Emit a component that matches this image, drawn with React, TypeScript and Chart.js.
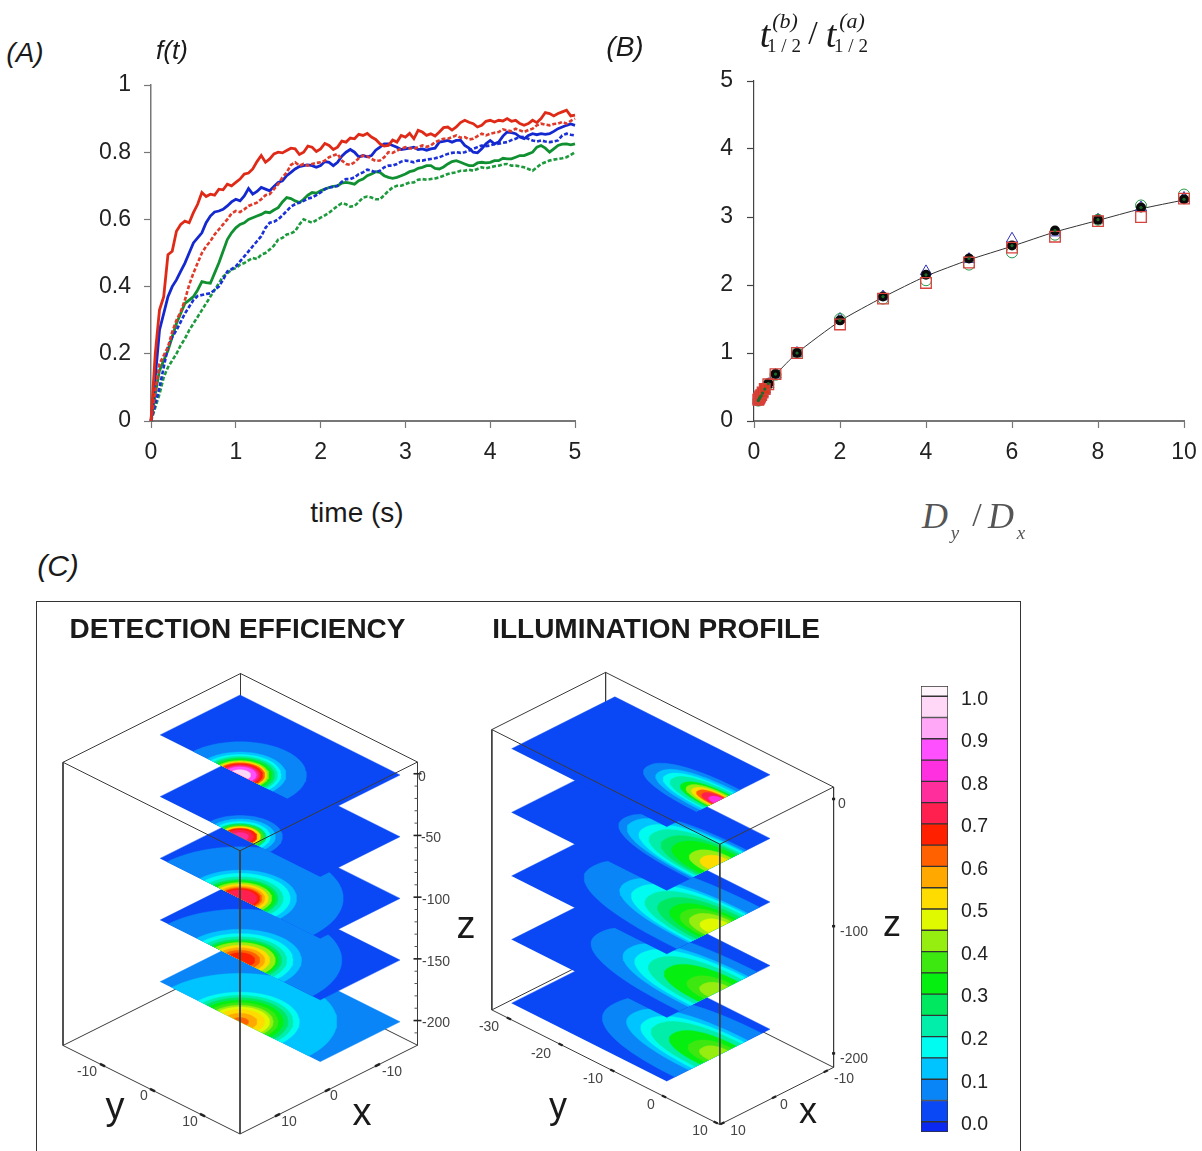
import React, { useEffect, useRef } from "react";
import { Chart, registerables } from "chart.js";

Chart.register(...registerables);

const SANS = "'Liberation Sans', Arial, sans-serif";
const SERIF = "'Liberation Serif', serif";

// ---------- Panel A ----------
const timeSeconds = [0, 0.05, 0.1, 0.15, 0.2, 0.25, 0.3, 0.35, 0.4, 0.45, 0.5, 0.55, 0.6, 0.65, 0.7, 0.75, 0.8, 0.85, 0.9, 0.95, 1, 1.05, 1.1, 1.15, 1.2, 1.25, 1.3, 1.35, 1.4, 1.45, 1.5, 1.55, 1.6, 1.65, 1.7, 1.75, 1.8, 1.85, 1.9, 1.95, 2, 2.05, 2.1, 2.15, 2.2, 2.25, 2.3, 2.35, 2.4, 2.45, 2.5, 2.55, 2.6, 2.65, 2.7, 2.75, 2.8, 2.85, 2.9, 2.95, 3, 3.05, 3.1, 3.15, 3.2, 3.25, 3.3, 3.35, 3.4, 3.45, 3.5, 3.55, 3.6, 3.65, 3.7, 3.75, 3.8, 3.85, 3.9, 3.95, 4, 4.05, 4.1, 4.15, 4.2, 4.25, 4.3, 4.35, 4.4, 4.45, 4.5, 4.55, 4.6, 4.65, 4.7, 4.75, 4.8, 4.85, 4.9, 4.95, 5];
const redSolid = [0, 0.2, 0.33, 0.37, 0.495, 0.505, 0.565, 0.585, 0.595, 0.59, 0.62, 0.645, 0.68, 0.668, 0.675, 0.672, 0.69, 0.688, 0.705, 0.7, 0.71, 0.72, 0.735, 0.738, 0.75, 0.772, 0.79, 0.77, 0.78, 0.795, 0.8, 0.798, 0.805, 0.812, 0.81, 0.793, 0.8, 0.818, 0.815, 0.802, 0.81, 0.826, 0.82, 0.808, 0.815, 0.833, 0.83, 0.842, 0.84, 0.853, 0.85, 0.856, 0.845, 0.838, 0.825, 0.818, 0.82, 0.836, 0.83, 0.85, 0.845, 0.856, 0.84, 0.865, 0.86, 0.85, 0.855, 0.848, 0.86, 0.873, 0.875, 0.866, 0.875, 0.888, 0.895, 0.889, 0.885, 0.875, 0.88, 0.892, 0.895, 0.89, 0.895, 0.893, 0.9, 0.892, 0.895, 0.885, 0.88, 0.885, 0.895, 0.888, 0.9, 0.918, 0.915, 0.908, 0.915, 0.92, 0.925, 0.908, 0.91];
const redDashed = [0, 0.09, 0.17, 0.195, 0.22, 0.265, 0.3, 0.325, 0.36, 0.405, 0.44, 0.47, 0.5, 0.52, 0.535, 0.555, 0.57, 0.585, 0.6, 0.618, 0.625, 0.622, 0.63, 0.64, 0.645, 0.65, 0.66, 0.672, 0.675, 0.69, 0.705, 0.725, 0.74, 0.762, 0.77, 0.76, 0.765, 0.76, 0.765, 0.768, 0.77, 0.775, 0.785, 0.79, 0.795, 0.775, 0.765, 0.762, 0.77, 0.782, 0.79, 0.788, 0.78, 0.774, 0.775, 0.785, 0.8, 0.798, 0.805, 0.81, 0.815, 0.812, 0.81, 0.815, 0.82, 0.816, 0.82, 0.83, 0.835, 0.84, 0.84, 0.845, 0.85, 0.843, 0.845, 0.838, 0.84, 0.848, 0.855, 0.85, 0.855, 0.858, 0.86, 0.868, 0.865, 0.862, 0.87, 0.865, 0.86, 0.866, 0.87, 0.88, 0.885, 0.882, 0.88, 0.884, 0.885, 0.89, 0.885, 0.893, 0.9];
const blueSolid = [0, 0.13, 0.27, 0.32, 0.37, 0.4, 0.42, 0.445, 0.47, 0.5, 0.53, 0.545, 0.56, 0.59, 0.61, 0.622, 0.625, 0.63, 0.64, 0.652, 0.66, 0.655, 0.67, 0.692, 0.675, 0.683, 0.695, 0.69, 0.685, 0.698, 0.71, 0.715, 0.73, 0.74, 0.75, 0.757, 0.76, 0.762, 0.76, 0.755, 0.76, 0.772, 0.77, 0.76, 0.77, 0.788, 0.8, 0.808, 0.8, 0.786, 0.79, 0.786, 0.79, 0.806, 0.815, 0.825, 0.825, 0.82, 0.815, 0.808, 0.81, 0.812, 0.815, 0.808, 0.81, 0.806, 0.81, 0.812, 0.83, 0.832, 0.835, 0.83, 0.835, 0.836, 0.82, 0.812, 0.8, 0.798, 0.81, 0.825, 0.835, 0.825, 0.83, 0.848, 0.86, 0.858, 0.855, 0.845, 0.84, 0.85, 0.855, 0.852, 0.855, 0.853, 0.855, 0.862, 0.87, 0.875, 0.88, 0.884, 0.88];
const blueDashed = [0, 0.05, 0.1, 0.16, 0.22, 0.25, 0.27, 0.295, 0.32, 0.34, 0.36, 0.372, 0.375, 0.378, 0.38, 0.39, 0.4, 0.42, 0.445, 0.452, 0.46, 0.475, 0.49, 0.505, 0.52, 0.535, 0.55, 0.575, 0.59, 0.593, 0.6, 0.612, 0.625, 0.638, 0.645, 0.65, 0.655, 0.662, 0.665, 0.672, 0.68, 0.69, 0.695, 0.697, 0.7, 0.712, 0.72, 0.72, 0.725, 0.735, 0.74, 0.748, 0.745, 0.74, 0.745, 0.755, 0.76, 0.76, 0.765, 0.772, 0.775, 0.773, 0.77, 0.775, 0.775, 0.778, 0.78, 0.782, 0.785, 0.79, 0.795, 0.798, 0.8, 0.798, 0.8, 0.805, 0.81, 0.815, 0.82, 0.818, 0.82, 0.824, 0.825, 0.828, 0.83, 0.836, 0.84, 0.846, 0.845, 0.84, 0.835, 0.832, 0.835, 0.832, 0.83, 0.832, 0.835, 0.85, 0.855, 0.852, 0.85];
const greenSolid = [0, 0.08, 0.15, 0.18, 0.21, 0.25, 0.29, 0.32, 0.35, 0.36, 0.37, 0.39, 0.415, 0.412, 0.41, 0.44, 0.47, 0.505, 0.54, 0.56, 0.575, 0.585, 0.59, 0.6, 0.605, 0.61, 0.615, 0.622, 0.62, 0.628, 0.635, 0.652, 0.665, 0.662, 0.655, 0.65, 0.66, 0.672, 0.68, 0.678, 0.685, 0.69, 0.695, 0.698, 0.7, 0.708, 0.71, 0.708, 0.705, 0.715, 0.72, 0.73, 0.735, 0.742, 0.74, 0.73, 0.725, 0.722, 0.725, 0.73, 0.735, 0.742, 0.745, 0.752, 0.755, 0.76, 0.76, 0.752, 0.75, 0.756, 0.765, 0.772, 0.775, 0.77, 0.765, 0.76, 0.76, 0.768, 0.77, 0.768, 0.77, 0.775, 0.775, 0.782, 0.78, 0.78, 0.785, 0.79, 0.79, 0.795, 0.8, 0.815, 0.82, 0.812, 0.8, 0.81, 0.82, 0.824, 0.825, 0.822, 0.825];
const greenDashed = [0, 0.04, 0.08, 0.13, 0.16, 0.18, 0.2, 0.225, 0.245, 0.27, 0.29, 0.31, 0.33, 0.35, 0.37, 0.39, 0.41, 0.43, 0.44, 0.45, 0.455, 0.465, 0.47, 0.478, 0.485, 0.482, 0.495, 0.5, 0.51, 0.522, 0.54, 0.545, 0.555, 0.558, 0.565, 0.585, 0.6, 0.595, 0.59, 0.598, 0.605, 0.612, 0.62, 0.63, 0.64, 0.648, 0.645, 0.638, 0.64, 0.652, 0.665, 0.668, 0.665, 0.66, 0.66, 0.672, 0.685, 0.695, 0.7, 0.7, 0.705, 0.71, 0.71, 0.718, 0.72, 0.718, 0.72, 0.722, 0.725, 0.73, 0.735, 0.738, 0.74, 0.745, 0.745, 0.748, 0.745, 0.75, 0.755, 0.752, 0.755, 0.758, 0.76, 0.764, 0.765, 0.76, 0.76, 0.758, 0.755, 0.75, 0.745, 0.755, 0.765, 0.77, 0.775, 0.778, 0.78, 0.782, 0.785, 0.792, 0.8];
const panelAXTicks = [0, 1, 2, 3, 4, 5];
const panelAYTicks = [0, 0.2, 0.4, 0.6, 0.8, 1];

// ---------- Panel B ----------
const diffusionRatio = [0.1, 0.111, 0.125, 0.143, 0.167, 0.2, 0.25, 0.333, 0.5, 1, 2, 3, 4, 5, 6, 7, 8, 9, 10];
const fitCurve = [0.3, 0.315, 0.33, 0.35, 0.37, 0.41, 0.46, 0.54, 0.68, 1, 1.47, 1.82, 2.13, 2.37, 2.57, 2.78, 2.95, 3.12, 3.25];
const blackDots = [0.3, 0.315, 0.33, 0.35, 0.37, 0.41, 0.47, 0.55, 0.69, 1, 1.48, 1.83, 2.15, 2.39, 2.58, 2.8, 2.96, 3.14, 3.26];
const redSquares = [0.31, 0.325, 0.34, 0.36, 0.38, 0.42, 0.47, 0.54, 0.69, 1, 1.42, 1.8, 2.03, 2.33, 2.55, 2.71, 2.94, 3, 3.27];
const greenCircles = [0.3, 0.315, 0.33, 0.35, 0.37, 0.41, 0.46, 0.54, 0.68, 1, 1.5, 1.8, 2.07, 2.3, 2.48, 2.74, 2.96, 3.17, 3.33];
const blueTriangles = [0.3, 0.315, 0.33, 0.35, 0.37, 0.41, 0.46, 0.54, 0.68, 1, 1.5, 1.83, 2.2, 2.38, 2.68, 2.77, 2.96, 3.14, 3.28];
const panelBXTicks = [0, 2, 4, 6, 8, 10];
const panelBYTicks = [0, 1, 2, 3, 4, 5];

// ---------- Colour scale ----------
const bandEdges = [-0.024, 0, 0.05, 0.1, 0.15, 0.2, 0.25, 0.3, 0.35, 0.4, 0.45, 0.5, 0.55, 0.6, 0.65, 0.7, 0.75, 0.8, 0.85, 0.9, 0.95, 1, 1.024];
const bandColors = ["#0a28f0", "#0a48f6", "#0a85f8", "#00c4ff", "#00fbf0", "#00eeaa", "#00e860", "#05f010", "#3ce810", "#96ee10", "#e0f800", "#ffdc00", "#ffa800", "#ff6000", "#ff2000", "#ff2050", "#ff2e9c", "#ff30e0", "#ff50ff", "#ffa8f8", "#ffd8f8", "#fff4fb"];
const scaleTicks = [0, 0.1, 0.2, 0.3, 0.4, 0.5, 0.6, 0.7, 0.8, 0.9, 1];

// ---------- Panel C, contour bands: [level, radius] ----------
const sliceDepths = [0, -50, -100, -150, -200];
const detectionBase = [0, 0, 0, 0, 0.05];
const detection0 = [[0.05, 9.4], [0.1, 6.5], [0.15, 5.8], [0.2, 5.3], [0.25, 4.9], [0.3, 4.5], [0.4, 4.1], [0.5, 3.8], [0.6, 3.5], [0.65, 3.2], [0.7, 2.9], [0.75, 2.6], [0.85, 2.3], [0.95, 1.5]];
const detection50 = [[0.05, 6], [0.1, 5], [0.15, 4.3], [0.25, 3.7], [0.35, 3.3], [0.5, 2.9], [0.65, 2.4], [0.7, 1.9], [0.75, 1.2]];
const detection100 = [[0.05, 14.6], [0.1, 8], [0.15, 7.1], [0.2, 6.1], [0.25, 5.4], [0.3, 5], [0.4, 4.5], [0.5, 4], [0.55, 3.5], [0.6, 3.1], [0.65, 2.8], [0.7, 2.4]];
const detection150 = [[0.05, 14.4], [0.1, 8.7], [0.15, 7.5], [0.2, 6.6], [0.25, 5.9], [0.3, 5.4], [0.4, 5], [0.5, 4.2], [0.55, 3.5], [0.6, 2.8], [0.65, 2.1]];
const detection200 = [[0.1, 13.7], [0.15, 8.4], [0.2, 7.5], [0.25, 6.8], [0.3, 6.1], [0.35, 5.4], [0.4, 4.7], [0.45, 4.2], [0.5, 3.5], [0.55, 2.4], [0.6, 1.2]];
const detectionSlices = [detection0, detection50, detection100, detection150, detection200];

// Illumination: [level, extent along y, half width along x]
const illumination0 = [[0.05, 13.5, 4.2], [0.1, 11.3, 3.5], [0.15, 10, 3], [0.2, 8.7, 2.7], [0.3, 6.8, 2.2], [0.4, 5.8, 1.9], [0.5, 4.8, 1.6], [0.6, 3.9, 1.3], [0.7, 2.9, 1.1], [0.8, 1.6, 0.8]];
const illumination50 = [[0.05, 18, 5.5], [0.1, 16.5, 5], [0.15, 14.2, 4.7], [0.2, 12.3, 4.3], [0.25, 10, 3.9], [0.3, 8, 3.4], [0.4, 4.8, 2.5], [0.5, 2.9, 1.8]];
const illumination100 = [[0.05, 24, 8], [0.1, 17.7, 5.7], [0.15, 15.5, 5.3], [0.2, 12.9, 4.8], [0.25, 10.6, 4.2], [0.3, 8.4, 3.5], [0.35, 6.5, 3], [0.4, 4.8, 2.5], [0.45, 2.9, 1.8]];
const illumination150 = [[0.05, 22.8, 7.5], [0.1, 17, 5.8], [0.15, 14.8, 5.3], [0.2, 12.3, 4.6], [0.3, 9.4, 3.8], [0.35, 5.2, 2.7], [0.4, 2.9, 1.9]];
const illumination200 = [[0.05, 20, 8.4], [0.1, 16.3, 5.7], [0.15, 13.7, 5], [0.2, 11.8, 4.4], [0.3, 8.5, 3.5], [0.35, 5, 2.6], [0.4, 3, 1.8]];
const illuminationSlices = [illumination0, illumination50, illumination100, illumination150, illumination200];

const leftYTicks = [-10, 0, 10];
const leftXTicks = [-10, 0, 10];
const leftZTicks = [0, -50, -100, -150, -200];
const leftZMinor = [-10, -20, -30, -40, -60, -70, -80, -90, -110, -120, -130, -140, -160, -170, -180, -190, -210];
const rightYTicks = [-30, -20, -10, 0, 10];
const rightXTicks = [-10, 0, 10];
const rightZTicks = [0, -100, -200];

type P3 = (x: number, y: number, z: number) => { x: number; y: number };
const projLeft: P3 = (x, y, z) => ({ x: 240 - 5 * x + 5 * y, y: 775 + 2.5 * x + 2.5 * y - 1.234 * z });
const projRight: P3 = (x, y, z) => ({ x: 718.3 - 5.17 * x + 5.17 * y, y: 800.8 + 2.6 * x + 2.6 * y - 1.272 * z });

const colorOf = (level: number) => bandColors[Math.round(level / 0.05) + 1];

function poly(points: { x: number; y: number }[], color: string) {
  return { type: "scatter", data: points, showLine: true, pointRadius: 0, fill: "shape", backgroundColor: color, borderColor: color, borderWidth: 0.4, tension: 0 };
}
function seg(a: { x: number; y: number }, b: { x: number; y: number }, color = "#3a3a3a", width = 1) {
  return { type: "scatter", data: [a, b], showLine: true, pointRadius: 0, fill: false, borderColor: color, borderWidth: width, tension: 0 };
}
const STEPS = Array.from({ length: 49 }, (_, i) => (i * Math.PI) / 48);
const soft = (v: number) => Math.sign(v) * Math.pow(Math.abs(v), 0.85);

function boxEdges(p: P3, xLo: number, xHi: number, yLo: number, yHi: number, zLo: number, zHi: number) {
  const backT = p(xLo, yLo, zHi), backB = p(xLo, yLo, zLo);
  const leftT = p(xHi, yLo, zHi), leftB = p(xHi, yLo, zLo);
  const rightT = p(xLo, yHi, zHi), rightB = p(xLo, yHi, zLo);
  const frontT = p(xHi, yHi, zHi), frontB = p(xHi, yHi, zLo);
  return {
    back: [seg(backT, leftT), seg(backT, rightT), seg(backT, backB), seg(backB, leftB), seg(backB, rightB), seg(leftT, leftB), seg(rightT, rightB)],
    front: [seg(leftT, frontT), seg(rightT, frontT), seg(frontT, frontB), seg(frontB, leftB), seg(frontB, rightB)],
  };
}

function buildPanelC(): any[] {
  const out: any[] = [];
  const L = boxEdges(projLeft, -18, 17.5, -17.9, 17.5, -220, 9.5);
  out.push(...L.back);
  for (let s = sliceDepths.length - 1; s >= 0; s--) {
    const z = sliceDepths[s];
    out.push(poly([projLeft(0, -16, z), projLeft(-16, -16, z), projLeft(-16, 16, z), projLeft(0, 16, z)], colorOf(detectionBase[s])));
    for (const [level, r] of detectionSlices[s]) {
      out.push(poly(STEPS.map((t) => projLeft(-r * Math.sin(t), r * Math.cos(t), z)), colorOf(level)));
    }
  }
  out.push(...L.front);
  for (const v of leftYTicks) out.push(seg(projLeft(17.5, v - 0.5, -220), projLeft(17.5, v + 0.5, -220), "#222", 2.5));
  for (const v of leftXTicks) out.push(seg(projLeft(v - 0.5, 17.5, -220), projLeft(v + 0.5, 17.5, -220), "#222", 2.5));
  for (const v of leftZTicks) out.push(seg(projLeft(-18 + 0.4, 17.5 - 0.4, v), projLeft(-18 - 0.4, 17.5 + 0.4, v), "#222", 1.6));
  for (const v of leftZMinor) out.push(seg(projLeft(-18 + 0.3, 17.5 - 0.3, v), projLeft(-18, 17.5, v), "#555", 1));
  const R = boxEdges(projRight, -11.5, 10.5, -33.3, 10.8, -211, 9.4);
  out.push(...R.back);
  for (let s = sliceDepths.length - 1; s >= 0; s--) {
    const z = sliceDepths[s];
    out.push(poly([projRight(10, -30, z), projRight(-10, -30, z), projRight(-10, 0, z), projRight(10, 0, z)], colorOf(0)));
    for (const [level, ay, ax] of illuminationSlices[s]) {
      out.push(poly(STEPS.map((t) => projRight(ax * soft(Math.cos(t)), -ay * soft(Math.sin(t)), z)), colorOf(level)));
    }
  }
  out.push(...R.front);
  for (const v of rightYTicks) out.push(seg(projRight(10.5, v - 0.4, -211), projRight(10.5, v + 0.4, -211), "#222", 2.2));
  for (const v of rightXTicks) out.push(seg(projRight(v - 0.4, 10.8, -211), projRight(v + 0.4, 10.8, -211), "#222", 2.2));
  for (const v of rightZTicks) out.push(seg(projRight(-11.5 + 0.15, 10.8 - 0.15, v), projRight(-11.5 - 0.15, 10.8 + 0.15, v), "#222", 2.5));
  return out.map((d, i, all) => ({ ...d, order: all.length - i }));
}

type Lab = { t: string; x: number; y: number; s: number; i?: boolean; b?: boolean; f?: string; c?: string };
const textLabels: Lab[] = [
  { t: "(A)", x: 25, y: 53, s: 28, i: true },
  { t: "f(t)", x: 172, y: 50, s: 26, i: true },
  { t: "time (s)", x: 357, y: 513, s: 28 },
  { t: "(B)", x: 625, y: 47, s: 28, i: true },
  { t: "t", x: 765, y: 34, s: 38, i: true, f: SERIF },
  { t: "(b)", x: 785, y: 21, s: 22, i: true, f: SERIF },
  { t: "1 / 2", x: 784, y: 45, s: 19, f: SERIF },
  { t: "/", x: 813, y: 33, s: 34, f: SERIF },
  { t: "t", x: 831, y: 34, s: 38, i: true, f: SERIF },
  { t: "(a)", x: 852, y: 21, s: 22, i: true, f: SERIF },
  { t: "1 / 2", x: 851, y: 45, s: 19, f: SERIF },
  { t: "D", x: 935, y: 516, s: 36, i: true, f: SERIF, c: "#555" },
  { t: "y", x: 955, y: 532, s: 19, i: true, f: SERIF, c: "#555" },
  { t: "/", x: 977, y: 515, s: 34, f: SERIF, c: "#555" },
  { t: "D", x: 1001, y: 516, s: 36, i: true, f: SERIF, c: "#555" },
  { t: "x", x: 1021, y: 532, s: 19, i: true, f: SERIF, c: "#555" },
  { t: "(C)", x: 58, y: 566, s: 30, i: true },
  { t: "DETECTION EFFICIENCY", x: 237.5, y: 629, s: 28, b: true },
  { t: "ILLUMINATION PROFILE", x: 656, y: 629, s: 28, b: true },
  { t: "0", x: 422, y: 776, s: 14, c: "#444" },
  { t: "-50", x: 431, y: 837, s: 14, c: "#444" },
  { t: "-100", x: 436, y: 899, s: 14, c: "#444" },
  { t: "-150", x: 436, y: 961, s: 14, c: "#444" },
  { t: "-200", x: 436, y: 1022, s: 14, c: "#444" },
  { t: "-10", x: 87, y: 1071, s: 14, c: "#444" },
  { t: "0", x: 144, y: 1095, s: 14, c: "#444" },
  { t: "10", x: 190, y: 1121, s: 14, c: "#444" },
  { t: "-10", x: 392, y: 1071, s: 14, c: "#444" },
  { t: "0", x: 334, y: 1095, s: 14, c: "#444" },
  { t: "10", x: 289, y: 1121, s: 14, c: "#444" },
  { t: "y", x: 115, y: 1106, s: 38 },
  { t: "x", x: 362, y: 1112, s: 38 },
  { t: "z", x: 466, y: 925, s: 38 },
  { t: "0", x: 842, y: 803, s: 14, c: "#444" },
  { t: "-100", x: 854, y: 931, s: 14, c: "#444" },
  { t: "-200", x: 854, y: 1058, s: 14, c: "#444" },
  { t: "-30", x: 489, y: 1026, s: 14, c: "#444" },
  { t: "-20", x: 541, y: 1053, s: 14, c: "#444" },
  { t: "-10", x: 593, y: 1078, s: 14, c: "#444" },
  { t: "0", x: 651, y: 1104, s: 14, c: "#444" },
  { t: "10", x: 700, y: 1130, s: 14, c: "#444" },
  { t: "10", x: 738, y: 1130, s: 14, c: "#444" },
  { t: "0", x: 784, y: 1104, s: 14, c: "#444" },
  { t: "-10", x: 844, y: 1078, s: 14, c: "#444" },
  { t: "y", x: 558, y: 1106, s: 36 },
  { t: "x", x: 808, y: 1111, s: 36 },
  { t: "z", x: 892, y: 924, s: 36 },
];

const fixedTicks = (vals: number[]) => (s: any) => {
  s.ticks = vals.map((value) => ({ value }));
};

function axis(min: number, max: number, vals: number[], size: { w?: number; h?: number }, borderColor: string, borderWidth: number, padding: number, labelOffset: number) {
  return {
    type: "linear",
    min,
    max,
    afterBuildTicks: fixedTicks(vals),
    afterFit: (s: any) => {
      if (size.w) s.width = size.w;
      if (size.h) s.height = size.h;
    },
    border: { display: true, color: borderColor, width: borderWidth },
    grid: { drawOnChartArea: false, drawTicks: true, tickLength: 7, tickColor: borderColor, tickWidth: 1.2 },
    ticks: { color: "#222", autoSkip: false, maxRotation: 0, padding, labelOffset, font: { family: SANS, size: 23 }, callback: (v: any) => String(v) },
  };
}

const noPlugins = { legend: { display: false }, tooltip: { enabled: false }, title: { display: false } };

function App() {
  const a = useRef<HTMLCanvasElement>(null);
  const b = useRef<HTMLCanvasElement>(null);
  const c = useRef<HTMLCanvasElement>(null);
  const d = useRef<HTMLCanvasElement>(null);

  useEffect(() => {
    const line = (vals: number[], color: string, dashed: boolean) => ({
      data: vals.map((y, i) => ({ x: timeSeconds[i], y })),
      showLine: true,
      pointRadius: 0,
      borderColor: color,
      borderWidth: dashed ? 2.6 : 2.8,
      borderDash: dashed ? [4, 2] : [],
      tension: 0,
      clip: false,
    });
    const chartA = new Chart(a.current!, {
      type: "scatter",
      data: {
        datasets: [line(greenDashed, "#1c9a3c", true), line(greenSolid, "#109030", false), line(blueDashed, "#1a30d8", true), line(blueSolid, "#1428d0", false), line(redDashed, "#e03a2a", true), line(redSolid, "#e02a18", false)].reverse() as any,
      },
      options: {
        animation: false,
        responsive: false,
        layout: { padding: { top: 40, right: 40, left: 0, bottom: 0 } },
        plugins: noPlugins as any,
        scales: {
          x: axis(0, 5, panelAXTicks, { h: 50 }, "#777", 2, 11, 0) as any,
          y: axis(0, 1, panelAYTicks, { w: 60 }, "#777", 1.5, 13, 0) as any,
        },
      },
    });

    const xy = (vals: number[]) => vals.map((y, i) => ({ x: diffusionRatio[i], y }));
    const chartB = new Chart(b.current!, {
      type: "scatter",
      data: {
        datasets: [
          { data: xy(blackDots), pointStyle: "circle", pointRadius: 1.6, pointBackgroundColor: "#1c6a2a", pointBorderWidth: 0, clip: false, order: 1 },
          { data: xy(redSquares), pointStyle: "rect", pointRadius: 7.5, pointBackgroundColor: (ctx: any) => (ctx.dataIndex < 7 ? "#d83a20" : "transparent"), pointBorderColor: "#d8423c", pointBorderWidth: 1.3, clip: false, order: 2 },
          { data: xy(blackDots), pointStyle: "circle", pointRadius: 5, pointBackgroundColor: "#0a0a0a", pointBorderWidth: 0, clip: false, order: 3 },
          { data: xy(greenCircles), pointStyle: "circle", pointRadius: 5.5, pointBackgroundColor: "transparent", pointBorderColor: "#2a9a4a", pointBorderWidth: 1, clip: false, order: 4 },
          { data: xy(blueTriangles), pointStyle: "triangle", pointRadius: 6.5, pointBackgroundColor: "transparent", pointBorderColor: "#3030c0", pointBorderWidth: 1, clip: false, order: 5 },
          { data: xy(fitCurve), showLine: true, pointRadius: 0, borderColor: "#333", borderWidth: 1, tension: 0.2, clip: false, order: 6 },
        ] as any,
      },
      options: {
        animation: false,
        responsive: false,
        layout: { padding: { top: 40, right: 40, left: 0, bottom: 0 } },
        plugins: noPlugins as any,
        scales: {
          x: axis(0, 10, panelBXTicks, { h: 50 }, "#777", 2, 11, 0) as any,
          y: axis(0, 5, panelBYTicks, { w: 60 }, "#444", 1.2, 14, 0) as any,
        },
      },
    });

    const chartC = new Chart(c.current!, {
      type: "scatter",
      data: { datasets: buildPanelC() },
      options: {
        animation: false,
        responsive: false,
        layout: { padding: 0 },
        plugins: noPlugins as any,
        scales: {
          x: { type: "linear", display: false, min: 0, max: 1202 },
          y: { type: "linear", display: false, min: 590, max: 1151, reverse: true },
        },
      },
    });

    const chartD = new Chart(d.current!, {
      type: "bar",
      data: {
        labels: ["scale"],
        datasets: bandColors.map((color, i) => ({
          data: [[bandEdges[i], bandEdges[i + 1]]],
          backgroundColor: color,
          borderColor: "#333",
          borderWidth: 1,
          borderSkipped: false,
          grouped: false,
          barPercentage: 1,
          categoryPercentage: 1,
        })) as any,
      },
      options: {
        animation: false,
        responsive: false,
        layout: { padding: { top: 40, bottom: 40, left: 0, right: 0 } },
        plugins: noPlugins as any,
        scales: {
          x: { display: false, offset: true },
          y: {
            ...(axis(-0.024, 1.024, scaleTicks, { w: 50 }, "#555", 1, 12, 1) as any),
            position: "right",
            grid: { display: false, drawTicks: false },
            border: { display: false },
            ticks: { color: "#222", autoSkip: false, padding: 13, labelOffset: 3, font: { family: SANS, size: 19.5 }, callback: (v: any) => Number(v).toFixed(1) },
          },
        },
      },
    });

    return () => {
      chartA.destroy();
      chartB.destroy();
      chartC.destroy();
      chartD.destroy();
    };
  }, []);

  const cv = (left: number, top: number): React.CSSProperties => ({ position: "absolute", left, top });

  return (
    <div style={{ position: "absolute", left: 0, top: 0, width: 1202, height: 1151, overflow: "hidden", background: "#fff" }}>
      <canvas ref={a} width={524} height={426} style={cv(91, 45)} />
      <canvas ref={b} width={530} height={430} style={cv(694, 41)} />
      <div style={{ position: "absolute", left: 36, top: 601, width: 983, height: 600, border: "1px solid #333" }} />
      <canvas ref={c} width={1202} height={561} style={cv(0, 590)} />
      <canvas ref={d} width={77} height={526} style={cv(921, 646)} />
      {textLabels.map((l, i) => (
        <div
          key={i}
          style={{
            position: "absolute",
            left: l.x,
            top: l.y,
            transform: "translate(-50%,-50%)",
            whiteSpace: "pre",
            fontFamily: l.f || SANS,
            fontSize: l.s,
            fontStyle: l.i ? "italic" : "normal",
            fontWeight: l.b ? 700 : 400,
            color: l.c || "#1a1a1a",
            lineHeight: 1,
          }}
        >
          {l.t}
        </div>
      ))}
    </div>
  );
}

export default App;
